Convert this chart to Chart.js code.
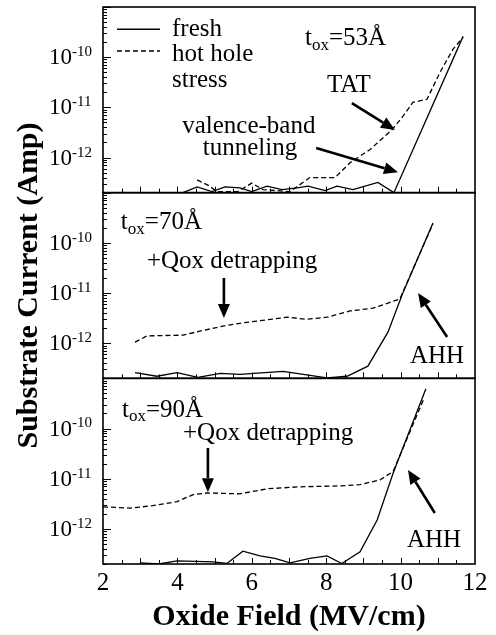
<!DOCTYPE html>
<html>
<head>
<meta charset="utf-8">
<script src="https://cdn.jsdelivr.net/npm/chart.js@4"></script>
<style>
  body { margin: 0; background: #fff; }
  canvas { display: block; }
</style>
</head>
<body>
<canvas id="chart" width="496" height="635"></canvas>
<script>
// values: [oxide field MV/cm, substrate current A]
const seriesNames = ['fresh', 'hot hole', 'stress'];
const panelIds = ['y53', 'y70', 'y90'];
const thickness = ['53', '70', '90'];
const yTickValues = [1e-10, 1e-11, 1e-12];
const xTickLabels = [2, 4, 6, 8, 10, 12];

const fresh53 = [[4.15,2.0e-13],[4.53,2.6e-13],[4.93,2.1e-13],[5.28,2.6e-13],[5.68,2.5e-13],[6.0,2.1e-13],
  [6.41,2.7e-13],[6.81,2.3e-13],[7.22,2.5e-13],[7.51,2.7e-13],[7.97,2.2e-13],[8.29,2.7e-13],[8.72,2.3e-13],
  [9.39,3.2e-13],[9.82,2.0e-13],[11.68,2.6e-10]];
const stress53 = [[4.53,3.6e-13],[4.83,2.8e-13],[5.07,2.1e-13],[5.62,2.1e-13],[6.0,3.1e-13],[6.3,2.3e-13],
  [7.03,2.1e-13],[7.56,4e-13],[8.24,4e-13],[8.64,7.9e-13],[9.18,1.45e-12],[9.77,3.6e-12],[10.06,6.6e-12],
  [10.33,1.26e-11],[10.71,1.45e-11],[11.06,5e-11],[11.41,1.45e-10],[11.68,2.5e-10]];

const fresh70 = [[2.86,2.6e-13],[3.45,2.2e-13],[3.99,2.6e-13],[4.55,2.1e-13],[5.15,2.5e-13],[5.68,2.4e-13],
  [6.84,2.75e-13],[8.02,2.05e-13],[8.56,2.2e-13],[9.12,3.5e-13],[9.66,1.66e-12],[10.06,1e-11],[10.87,2.5e-10]];
const stress70 = [[2.86,1.05e-12],[3.18,1.4e-12],[4.15,1.45e-12],[4.6,1.74e-12],[5.23,2.2e-12],[5.68,2.5e-12],
  [6.95,3.3e-12],[7.48,3e-12],[8.02,3.3e-12],[8.64,4.4e-12],[9.26,5e-12],[9.98,7.6e-12],[10.4,3.9e-11],[10.87,2.4e-10]];

const fresh90 = [[3.0,2.1e-13],[3.5,2.0e-13],[3.99,2.3e-13],[4.96,2.2e-13],[5.33,2.05e-13],[5.76,3.6e-13],
  [6.22,2.9e-13],[6.62,2.6e-13],[7.03,2.1e-13],[7.56,2.6e-13],[8.02,2.9e-13],[8.42,2.05e-13],[8.91,3.5e-13],
  [9.37,1.5e-12],[9.8,1.3e-11],[10.68,6.2e-10]];
const stress90 = [[2.0,2.75e-12],[2.73,2.6e-12],[3.34,2.9e-12],[3.99,3.5e-12],[4.42,4.8e-12],[4.8,5.2e-12],
  [5.68,5e-12],[6.41,6.3e-12],[7.3,6.9e-12],[8.37,7.2e-12],[8.9,7.6e-12],[9.45,9.5e-12],[9.8,1.4e-11],[10.63,4e-10]];

const SERIF = '"Liberation Serif", "Times New Roman", serif';

function pts(arr) { return arr.map(p => ({x: p[0], y: p[1]})); }

function line(data, axis, dashed) {
  return {
    data: pts(data),
    yAxisID: axis,
    borderColor: '#000',
    borderWidth: 1.3,
    borderDash: dashed ? [5, 3] : [],
    pointRadius: 0,
    tension: 0,
    fill: false
  };
}

// annotations, placed in data units of each panel
const notes = [
  {axis: 'y53', text: 'TAT', x: 8.61, y: 2.8e-11, align: 'center'},
  {axis: 'y53', text: 'valence-band', x: 5.92, y: 4.1e-12, align: 'center'},
  {axis: 'y53', text: 'tunneling', x: 5.95, y: 1.55e-12, align: 'center'},
  {axis: 'y70', text: '+Qox detrapping', x: 3.18, y: 4.2e-11, align: 'left'},
  {axis: 'y70', text: 'AHH', x: 10.98, y: 5.4e-13, align: 'center'},
  {axis: 'y90', text: '+Qox detrapping', x: 4.15, y: 8.1e-11, align: 'left'},
  {axis: 'y90', text: 'AHH', x: 10.9, y: 6e-13, align: 'center'}
];
const toxLabels = [
  {axis: 'y53', x: 7.43, y: 2.4e-10},
  {axis: 'y70', x: 2.48, y: 2.6e-10},
  {axis: 'y90', x: 2.51, y: 2.34e-10}
];
const arrows = [
  {axis: 'y53', from: [8.69, 1.22e-11], to: [9.85, 3.55e-12]},
  {axis: 'y53', from: [7.73, 1.55e-12], to: [9.93, 5.1e-13]},
  {axis: 'y70', from: [5.25, 2e-11], to: [5.25, 3.2e-12]},
  {axis: 'y70', from: [11.25, 1.33e-12], to: [10.47, 1e-11]},
  {axis: 'y90', from: [4.82, 4.1e-11], to: [4.82, 5.4e-12]},
  {axis: 'y90', from: [10.92, 2.07e-12], to: [10.2, 1.5e-11]}
];
const legendPos = {axis: 'y53', x0: 2.376, x1: 3.532, xt: 3.855, ySolid: 3.6e-10, yDash: 1.33e-10, yStress: 3.5e-11};

function drawArrow(ctx, x1, y1, x2, y2) {
  const ang = Math.atan2(y2 - y1, x2 - x1);
  const len = 14, half = 6;
  const bx = x2 - len * Math.cos(ang), by = y2 - len * Math.sin(ang);
  ctx.lineWidth = 2.6;
  ctx.beginPath();
  ctx.moveTo(x1, y1);
  ctx.lineTo(bx, by);
  ctx.stroke();
  ctx.beginPath();
  ctx.moveTo(x2, y2);
  ctx.lineTo(bx + half * Math.sin(ang), by - half * Math.cos(ang));
  ctx.lineTo(bx - half * Math.sin(ang), by + half * Math.cos(ang));
  ctx.closePath();
  ctx.fill();
}

const paper = {
  id: 'paper',
  afterDraw(chart) {
    const {ctx, chartArea: a, scales} = chart;
    const sx = scales.x;
    ctx.save();
    ctx.strokeStyle = '#000';
    ctx.fillStyle = '#000';

    panelIds.forEach((id, i) => {
      const s = scales[id];
      // ticks on the left edge
      ctx.lineWidth = 1;
      ctx.beginPath();
      for (let e = -13; e <= -9; e++) {
        for (let m = 1; m <= 9; m++) {
          const v = m * Math.pow(10, e);
          if (v < s.min * 0.999 || v > s.max * 1.001) continue;
          const py = Math.round(s.getPixelForValue(v)) + 0.5;
          ctx.moveTo(a.left, py);
          ctx.lineTo(a.left + (m === 1 ? 8 : 4), py);
        }
      }
      // ticks along the panel bottom
      for (let v = 2.5; v < 12; v += 0.5) {
        const px = Math.round(sx.getPixelForValue(v)) + 0.5;
        ctx.moveTo(px, s.bottom);
        ctx.lineTo(px, s.bottom - (Number.isInteger(v) ? 6 : 4));
      }
      ctx.stroke();

      // panel frame
      ctx.lineWidth = 1.6;
      ctx.strokeRect(a.left, s.top, a.right - a.left, s.bottom - s.top);

      // decade labels with superscript exponent
      ctx.textBaseline = 'middle';
      yTickValues.forEach(v => {
        const py = s.getPixelForValue(v);
        const exp = Math.round(Math.log10(v));
        ctx.font = '23px ' + SERIF;
        ctx.textAlign = 'right';
        ctx.fillText('10', 72, py + 1);
        ctx.font = '15px ' + SERIF;
        ctx.textAlign = 'left';
        ctx.fillText(String(exp), 72, py - 5);
      });
    });

    // text notes
    ctx.textBaseline = 'middle';
    notes.forEach(n => {
      const s = scales[n.axis];
      ctx.font = '25px ' + SERIF;
      ctx.textAlign = n.align;
      ctx.fillText(n.text, sx.getPixelForValue(n.x), s.getPixelForValue(n.y));
    });

    // t_ox = ...Å labels
    toxLabels.forEach((t, i) => {
      const s = scales[t.axis];
      let px = sx.getPixelForValue(t.x);
      const py = s.getPixelForValue(t.y);
      ctx.textAlign = 'left';
      ctx.font = '25px ' + SERIF;
      ctx.fillText('t', px, py);
      px += ctx.measureText('t').width;
      ctx.font = '17px ' + SERIF;
      ctx.fillText('ox', px, py + 7);
      px += ctx.measureText('ox').width;
      ctx.font = '25px ' + SERIF;
      ctx.fillText('=' + thickness[i] + 'Å', px, py);
    });

    // arrows
    arrows.forEach(r => {
      const s = scales[r.axis];
      drawArrow(ctx,
        sx.getPixelForValue(r.from[0]), s.getPixelForValue(r.from[1]),
        sx.getPixelForValue(r.to[0]), s.getPixelForValue(r.to[1]));
    });

    // legend
    const ls = scales[legendPos.axis];
    const lx0 = sx.getPixelForValue(legendPos.x0), lx1 = sx.getPixelForValue(legendPos.x1);
    const lxt = sx.getPixelForValue(legendPos.xt);
    const y1 = ls.getPixelForValue(legendPos.ySolid), y2 = ls.getPixelForValue(legendPos.yDash);
    ctx.lineWidth = 1.3;
    ctx.beginPath(); ctx.moveTo(lx0, y1); ctx.lineTo(lx1, y1); ctx.stroke();
    ctx.setLineDash([5, 3]);
    ctx.beginPath(); ctx.moveTo(lx0, y2); ctx.lineTo(lx1, y2); ctx.stroke();
    ctx.setLineDash([]);
    ctx.font = '25px ' + SERIF;
    ctx.textAlign = 'left';
    ctx.fillText(seriesNames[0], lxt, y1);
    ctx.fillText(seriesNames[1], lxt, y2 + 3);
    ctx.fillText(seriesNames[2], lxt, ls.getPixelForValue(legendPos.yStress));
    ctx.restore();
  }
};

function yScale(weight, withTitle) {
  return {
    type: 'logarithmic',
    position: 'left',
    stack: 'panels',
    stackWeight: 1,
    weight: weight,
    min: 2e-13,
    max: 1e-9,
    grid: {display: false, drawTicks: false},
    border: {display: false},
    ticks: {display: false},
    title: {
      display: withTitle,
      text: 'Substrate Current (Amp)',
      color: '#000',
      font: {family: SERIF, size: 30, weight: 'bold'},
      padding: {top: 11, bottom: 0}
    },
    afterFit(scale) { scale.width = 103; }
  };
}

new Chart(document.getElementById('chart'), {
  type: 'line',
  data: {
    datasets: [
      line(fresh53, 'y53', false), line(stress53, 'y53', true),
      line(fresh70, 'y70', false), line(stress70, 'y70', true),
      line(fresh90, 'y90', false), line(stress90, 'y90', true)
    ]
  },
  options: {
    responsive: false,
    animation: false,
    layout: {padding: {top: 7, right: 21, left: 0, bottom: 0}},
    plugins: {legend: {display: false}, tooltip: {enabled: false}},
    scales: {
      x: {
        type: 'linear',
        min: 2,
        max: 12,
        grid: {display: false, drawTicks: false},
        border: {display: false},
        ticks: {
          stepSize: 2,
          padding: 4,
          color: '#000',
          font: {family: SERIF, size: 25},
          callback: v => xTickLabels.includes(v) ? String(v) : ''
        },
        title: {
          display: true,
          text: 'Oxide Field (MV/cm)',
          color: '#000',
          font: {family: SERIF, size: 30, weight: 'bold'},
          padding: {top: 0, bottom: 0}
        },
        afterFit(scale) { scale.height = 71; }
      },
      y53: yScale(3, false),
      y70: yScale(2, true),
      y90: yScale(1, false)
    }
  },
  plugins: [paper]
});
</script>
</body>
</html>
